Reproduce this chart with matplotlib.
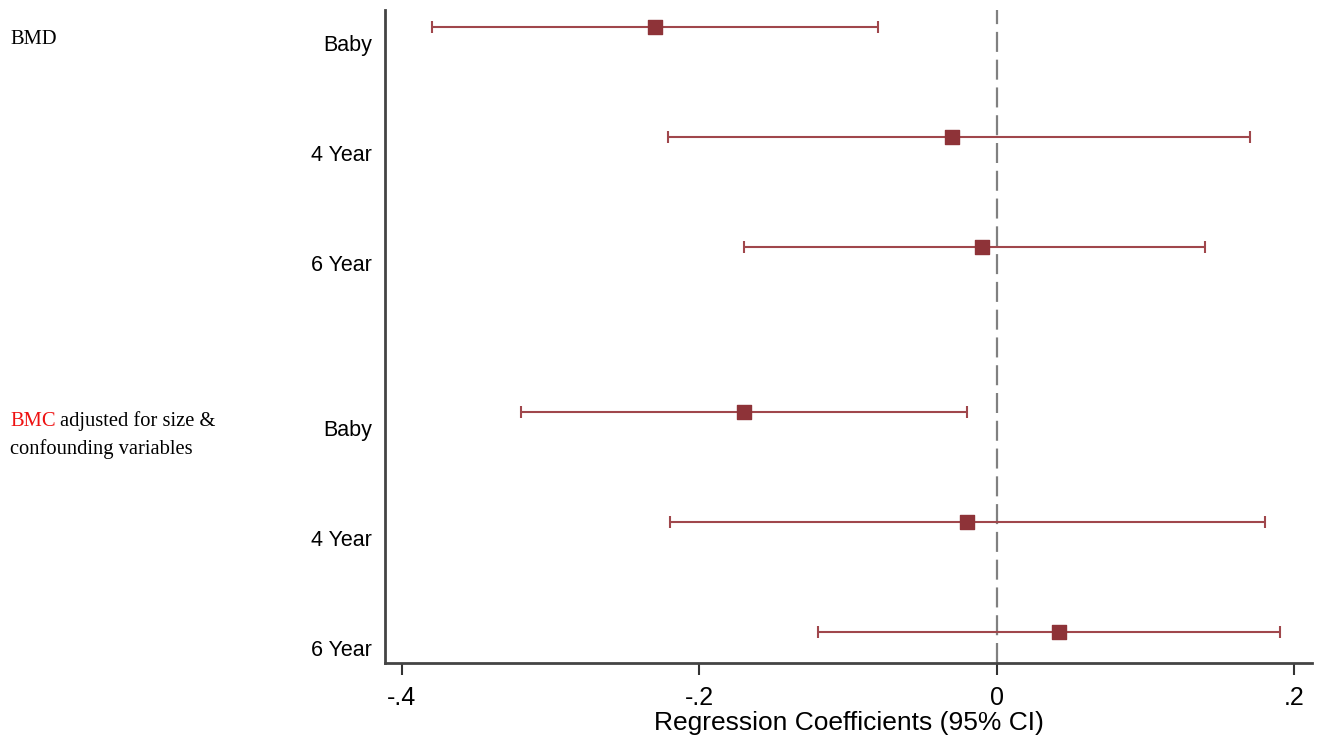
import matplotlib.pyplot as plt
from matplotlib.transforms import blended_transform_factory

# Data
labels = ["Baby", "4 Year", "6 Year", "Baby", "4 Year", "6 Year"]
coef = [-0.23, -0.03, -0.01, -0.17, -0.02, 0.042]
ci_low = [-0.38, -0.221, -0.17, -0.32, -0.22, -0.12]
ci_high = [-0.08, 0.17, 0.14, -0.02, 0.18, 0.19]
rows = [0, 1, 2, 3.5, 4.5, 5.5]

bar_color = "#a0474c"
marker_color = "#8e3338"

fig = plt.figure(figsize=(13.24, 7.41), dpi=100)
ax = fig.add_axes([385 / 1324, 1 - 663 / 741, (1312 - 385) / 1324, (663 - 10) / 741])

ax.axvline(0, color="#808080", lw=1.6, ls=(0, (9, 3.5)), zorder=1)

err_lo = [c - l for c, l in zip(coef, ci_low)]
err_hi = [h - c for c, h in zip(coef, ci_high)]
ax.errorbar(coef, rows, xerr=[err_lo, err_hi], fmt="none", ecolor=bar_color,
            elinewidth=1.5, capsize=4.5, capthick=1.5, zorder=2)
ax.scatter(coef, rows, marker="s", s=110, color=marker_color, zorder=3)

ax.set_xlim(-0.4114, 0.2118)
ax.set_ylim(5.78, -0.155)
ax.set_xticks([-0.4, -0.2, 0, 0.2])
ax.set_xticklabels(["-.4", "-.2", "0", ".2"], family="Liberation Sans", fontsize=18)
ax.set_yticks([])
ax.tick_params(axis="x", length=8.5, width=1.5, color="#333333", pad=8)
for side in ["top", "right"]:
    ax.spines[side].set_visible(False)
for side in ["left", "bottom"]:
    ax.spines[side].set_linewidth(2)
    ax.spines[side].set_color("#444444")

ax.set_xlabel("Regression Coefficients (95% CI)", family="Liberation Sans",
              fontsize=19, labelpad=1)

# row labels sit a bit below each estimate, left of the axis
trans = blended_transform_factory(fig.transFigure, ax.transData)
for lab, r in zip(labels, rows):
    ax.text(372 / 1324, r + 0.165, lab, transform=trans, ha="right", va="center",
            family="Liberation Sans", fontsize=15.5)

# group headings
fig.text(10 / 1324, 1 - 40 / 741, "BMD", family="Liberation Serif", fontsize=14.8,
         ha="left", va="center")
t = fig.text(10 / 1324, 1 - 421 / 741, "BMC", family="Liberation Serif", fontsize=14.8,
             color="#ee1111", ha="left", va="center")
fig.canvas.draw()
w = t.get_window_extent().width
fig.text(10 / 1324 + (w + 4) / 1324, 1 - 421 / 741, "adjusted for size &",
         family="Liberation Serif", fontsize=14.8, ha="left", va="center")
fig.text(10 / 1324, 1 - 449 / 741, "confounding variables", family="Liberation Serif",
         fontsize=14.8, ha="left", va="center")

fig.savefig("out.png", dpi=100, facecolor="white")
